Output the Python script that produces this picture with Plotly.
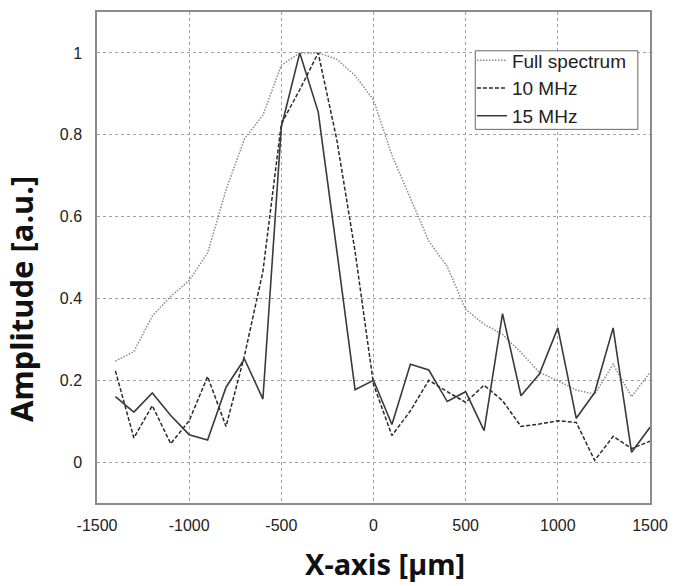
import plotly.graph_objects as go

# Lateral position of each measurement point [µm]
x_um = [-1400, -1300, -1200, -1100, -1000, -900, -800, -700, -600, -500,
        -400, -300, -200, -100, 0, 100, 200, 300, 400, 500,
        600, 700, 800, 900, 1000, 1100, 1200, 1300, 1400, 1500]

# Normalised amplitude profiles
full_spectrum = [0.247, 0.270, 0.357, 0.405, 0.444, 0.511, 0.665, 0.790, 0.848, 0.970,
                 1.000, 1.000, 0.985, 0.945, 0.885, 0.750, 0.645, 0.540, 0.478, 0.373,
                 0.337, 0.312, 0.268, 0.219, 0.199, 0.176, 0.166, 0.239, 0.160, 0.219]

mhz_10 = [0.223, 0.059, 0.138, 0.045, 0.101, 0.209, 0.087, 0.260, 0.466, 0.827,
          0.910, 1.000, 0.790, 0.515, 0.190, 0.065, 0.125, 0.200, 0.172, 0.146,
          0.188, 0.150, 0.087, 0.093, 0.101, 0.097, 0.004, 0.063, 0.033, 0.051]

mhz_15 = [0.160, 0.122, 0.169, 0.114, 0.067, 0.054, 0.183, 0.252, 0.154, 0.819,
          1.000, 0.856, 0.520, 0.177, 0.200, 0.092, 0.239, 0.225, 0.148, 0.172,
          0.077, 0.363, 0.162, 0.215, 0.328, 0.107, 0.170, 0.328, 0.024, 0.085]

x_ticks = [-1500, -1000, -500, 0, 500, 1000, 1500]
x_tick_text = ["-1500", "-1000", "-500", "0", "500", "1000", "1500"]
y_ticks = [0, 0.2, 0.4, 0.6, 0.8, 1]
y_tick_text = ["0", "0.2", "0.4", "0.6", "0.8", "1"]

fig = go.Figure()
fig.add_trace(go.Scatter(x=x_um, y=full_spectrum, mode="lines", name="Full spectrum",
                         line=dict(color="#8a8a8a", width=1.5, dash="1.5px,1.5px")))
fig.add_trace(go.Scatter(x=x_um, y=mhz_10, mode="lines", name="10 MHz",
                         line=dict(color="#2a2a2a", width=1.5, dash="4px,2px")))
fig.add_trace(go.Scatter(x=x_um, y=mhz_15, mode="lines", name="15 MHz",
                         line=dict(color="#3a3a3a", width=1.6)))

axis_common = dict(
    showline=True, mirror=True, linecolor="#8c8c8c", linewidth=1.5,
    showgrid=True, gridcolor="#a0a0a0", gridwidth=1, griddash="dot",
    zeroline=False, ticks="",
    tickfont=dict(family="Liberation Sans, Arial", size=16, color="#222"),
)

fig.update_xaxes(range=[-1500, 1500], tickvals=x_ticks, ticktext=x_tick_text,
                 ticklabelstandoff=7, **axis_common)
fig.update_yaxes(range=[-0.1, 1.1], tickvals=y_ticks, ticktext=y_tick_text,
                 ticklabelstandoff=10, **axis_common)

fig.update_layout(
    width=678, height=586,
    margin=dict(l=97, r=24, t=10, b=83),
    paper_bgcolor="white", plot_bgcolor="white",
    showlegend=True,
    legend=dict(x=0.678, xanchor="left", y=0.94, yanchor="top",
                bgcolor="rgba(0,0,0,0)", borderwidth=0,
                font=dict(family="Liberation Sans, Arial", size=19, color="#222"),
                tracegroupgap=0, itemwidth=30),
    # frame around the legend entries
    shapes=[dict(type="rect", xref="paper", yref="paper",
                 x0=0.684, x1=0.978, y0=0.761, y1=0.921,
                 line=dict(color="#666", width=1), fillcolor="white", layer="above")],
    annotations=[
        dict(text="<b>Amplitude [a.u.]</b>", xref="paper", yref="paper",
             x=-0.137, y=0.416, textangle=-90, showarrow=False,
             xanchor="center", yanchor="middle",
             font=dict(family="Noto Sans", size=31, color="#111")),
        dict(text="<b>X-axis [µm]</b>", xref="paper", yref="paper",
             x=0.52, y=-0.124, showarrow=False, xanchor="center", yanchor="middle",
             font=dict(family="Noto Sans", size=29, color="#111")),
    ],
)

fig.write_html("out.html")
